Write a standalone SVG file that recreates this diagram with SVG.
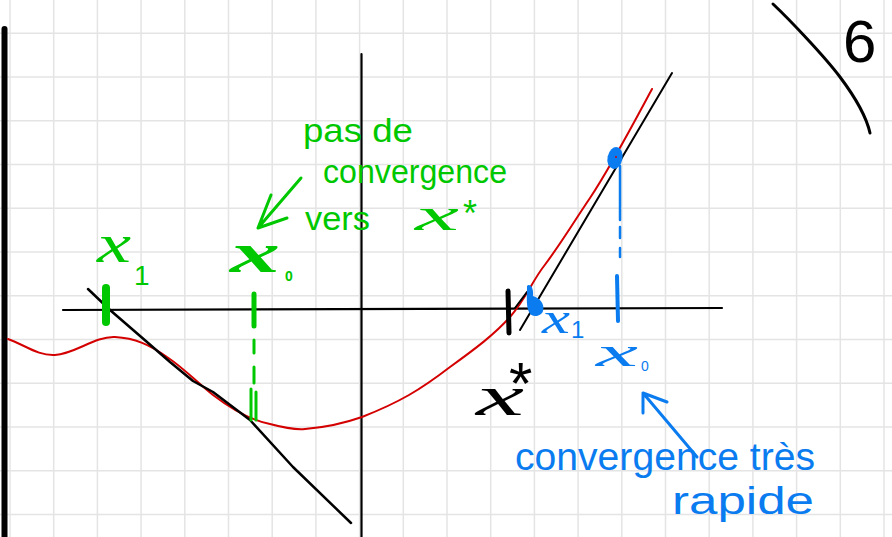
<svg xmlns="http://www.w3.org/2000/svg" width="892" height="537" viewBox="0 0 892 537">
<style>
.grid line{stroke:#e4e4e4;stroke-width:1.5}
.ink{fill:none;stroke-linecap:round;stroke-linejoin:round}
.blk{stroke:#000}
.grn{stroke:#00c800}
.blu{stroke:#0a7cf0}
.red{stroke:#d40000}
text{font-family:"Liberation Sans",Arial,sans-serif}
.var{font-family:"Liberation Serif","Times New Roman",serif;font-style:italic}
.tg{fill:#00c800}
.tb{fill:#0a7cf0}
.tk{fill:#000}
</style>
<rect width="892" height="537" fill="#fff"/>
<g id="grid" class="grid">
<line x1="10" y1="0" x2="10" y2="537"/><line x1="53.7" y1="0" x2="53.7" y2="537"/><line x1="97.4" y1="0" x2="97.4" y2="537"/><line x1="141.1" y1="0" x2="141.1" y2="537"/><line x1="184.8" y1="0" x2="184.8" y2="537"/><line x1="228.5" y1="0" x2="228.5" y2="537"/><line x1="272.2" y1="0" x2="272.2" y2="537"/><line x1="315.9" y1="0" x2="315.9" y2="537"/><line x1="359.6" y1="0" x2="359.6" y2="537"/><line x1="403.3" y1="0" x2="403.3" y2="537"/><line x1="447" y1="0" x2="447" y2="537"/><line x1="490.7" y1="0" x2="490.7" y2="537"/><line x1="534.4" y1="0" x2="534.4" y2="537"/><line x1="578.1" y1="0" x2="578.1" y2="537"/><line x1="621.8" y1="0" x2="621.8" y2="537"/><line x1="665.5" y1="0" x2="665.5" y2="537"/><line x1="709.2" y1="0" x2="709.2" y2="537"/><line x1="752.9" y1="0" x2="752.9" y2="537"/><line x1="796.6" y1="0" x2="796.6" y2="537"/><line x1="840.3" y1="0" x2="840.3" y2="537"/><line x1="884" y1="0" x2="884" y2="537"/>
<line x1="0" y1="33.3" x2="892" y2="33.3"/><line x1="0" y1="77" x2="892" y2="77"/><line x1="0" y1="120.8" x2="892" y2="120.8"/><line x1="0" y1="164.5" x2="892" y2="164.5"/><line x1="0" y1="208.3" x2="892" y2="208.3"/><line x1="0" y1="252" x2="892" y2="252"/><line x1="0" y1="295.8" x2="892" y2="295.8"/><line x1="0" y1="339.5" x2="892" y2="339.5"/><line x1="0" y1="383.3" x2="892" y2="383.3"/><line x1="0" y1="427" x2="892" y2="427"/><line x1="0" y1="470.8" x2="892" y2="470.8"/><line x1="0" y1="514.5" x2="892" y2="514.5"/>
</g>
<g id="margin"><line x1="4.5" y1="29" x2="4.5" y2="540" class="ink blk" stroke-width="6"/></g>
<g id="axes" class="ink blk" stroke-width="2.2">
<line x1="361.5" y1="54" x2="361.5" y2="540"/>
<line x1="63" y1="310" x2="722" y2="308"/>
</g>
<g id="curve">
<path class="ink red" stroke-width="2" d="M8,339 C25,345 38,356 55,355 C75,354 95,336 115,337 C135,338 150,345 167,357 C185,369 200,385 213,395 C230,408 250,420 270,424 C285,428 295,430 305,429 C330,427 345,423 362,417 C400,402 420,390 450,367 C475,349 495,334 510,317 C525,300 533,280 544,266 C560,245 575,220 590,198 C610,168 630,130 652,89"/>
</g>
<g id="tangent-left"><polyline class="ink blk" stroke-width="2.5" points="88,289 110,310 147,342 170,362 193,381 213,392 250,420 293,467 351,523"/></g>
<g id="tangent-right"><line class="ink blk" stroke-width="2" x1="672" y1="73" x2="520" y2="330"/></g>
<g id="green-x1">
<line class="ink grn" stroke-width="8" x1="106" y1="288" x2="106" y2="322"/>
<text class="tg var" x="97" y="262" font-size="54" textLength="34" lengthAdjust="spacingAndGlyphs">x</text>
<text class="tg" x="134" y="285" font-size="28">1</text>
</g>
<g id="green-x0">
<line class="ink grn" stroke-width="5" x1="254" y1="294" x2="254" y2="326"/>
<path class="ink grn" stroke-width="3" d="M254,340 V353 M254,367 V383 M251,389 V420 M256,392 V420"/>
<text class="tg var" x="230" y="272" font-size="58" font-weight="bold" textLength="50" lengthAdjust="spacingAndGlyphs">x</text>
<text class="tg" x="285" y="281" font-size="14" font-weight="bold">0</text>
</g>
<g id="green-note">
<text class="tg" x="303" y="142" font-size="34" textLength="110" lengthAdjust="spacingAndGlyphs">pas de</text>
<text class="tg" x="323" y="183" font-size="34" textLength="184" lengthAdjust="spacingAndGlyphs">convergence</text>
<text class="tg" x="305" y="230" font-size="34" textLength="65" lengthAdjust="spacingAndGlyphs">vers</text>
<text class="tg var" x="415" y="230" font-size="46" textLength="44" lengthAdjust="spacingAndGlyphs">x</text>
<text class="tg" x="463" y="226" font-size="36">*</text>
</g>
<g id="root-xstar">
<line class="ink blk" stroke-width="5" x1="508" y1="291" x2="509" y2="333"/>
<line class="ink blk" stroke-width="2" x1="515" y1="308" x2="527" y2="292"/>
<text class="tk var" x="476" y="415" font-size="58" textLength="48" lengthAdjust="spacingAndGlyphs">x</text>
<text class="tk" x="509" y="404" font-size="60">*</text>
</g>
<g id="blue-x1">
<path fill="#0a7cf0" d="M527,286 C530,283 534,288 533,296 C540,298 545,304 543,311 C541,317 531,318 529,312 C526,306 527,298 527,286 Z"/>
<text class="tb var" x="542" y="333" font-size="44" textLength="28" lengthAdjust="spacingAndGlyphs">x</text>
<text class="tb" x="571" y="338" font-size="24">1</text>
</g>
<g id="blue-x0">
<line class="ink blu" stroke-width="4" x1="617" y1="276" x2="618" y2="321"/>
<path class="ink blu" stroke-width="2.5" d="M620,166 V220 M620,227 V238 M620,248 V257"/>
<ellipse cx="615" cy="158" rx="7.5" ry="11" fill="#0a7cf0" transform="rotate(12 615 158)"/>
<circle cx="616" cy="157" r="1" fill="#d40000"/>
<text class="tb var" x="596" y="366" font-size="42" textLength="42" lengthAdjust="spacingAndGlyphs">x</text>
<text class="tb" x="641" y="371" font-size="14">0</text>
</g>
<g id="blue-note">
<text class="tb" x="515" y="470" font-size="38" textLength="300" lengthAdjust="spacingAndGlyphs">convergence très</text>
<text class="tb" x="672" y="514" font-size="38" textLength="142" lengthAdjust="spacingAndGlyphs">rapide</text>
</g>
<g id="page-mark">
<path class="ink blk" stroke-width="3" d="M773,4 C790,20 825,57 840,77 C855,97 866,115 870,133"/>
<text class="tk" x="843" y="62" font-size="60">6</text>
</g>
<g id="connectors">
<path class="ink grn" stroke-width="3" d="M301,178 L258,228 M271,195 L258,228 L287,218"/>
<path class="ink blu" stroke-width="3" d="M697,457 L643,393 M643,413 L643,393 L667,402"/>
</g>
</svg>
